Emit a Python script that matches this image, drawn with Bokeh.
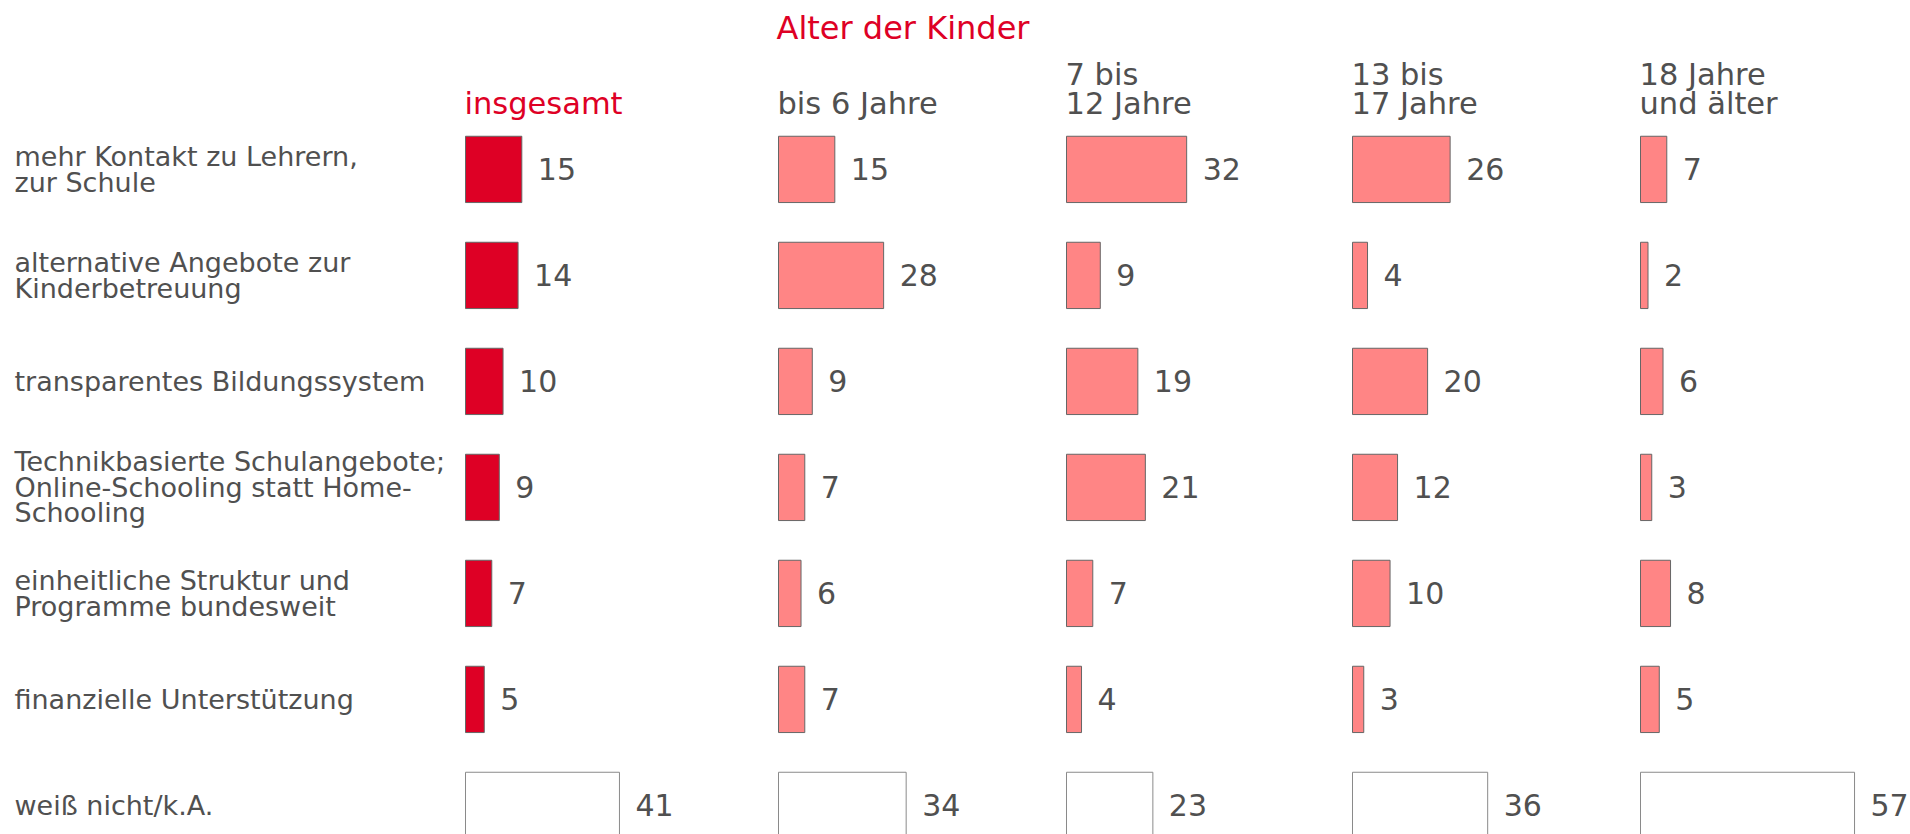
from bokeh.plotting import figure
from bokeh.models import Range1d, ColumnDataSource
from bokeh.core.properties import value
from bokeh.embed import file_html
from bokeh.resources import INLINE

# ---------------- data ----------------
title = "Alter der Kinder"
categories = [
    "mehr Kontakt zu Lehrern,\nzur Schule",
    "alternative Angebote zur\nKinderbetreuung",
    "transparentes Bildungssystem",
    "Technikbasierte Schulangebote;\nOnline-Schooling statt Home-\nSchooling",
    "einheitliche Struktur und\nProgramme bundesweit",
    "finanzielle Unterstützung",
    "weiß nicht/k.A.",
]
groups = ["insgesamt", "bis 6 Jahre", "7 bis\n12 Jahre", "13 bis\n17 Jahre", "18 Jahre\nund älter"]
insgesamt = [15, 14, 10, 9, 7, 5, 41]
bis_6 = [15, 28, 9, 7, 6, 7, 34]
j7_12 = [32, 9, 19, 21, 7, 4, 23]
j13_17 = [26, 4, 20, 12, 10, 3, 36]
j18_plus = [7, 2, 6, 3, 8, 5, 57]
series = [insgesamt, bis_6, j7_12, j13_17, j18_plus]

# ---------------- layout / style ----------------
W, H = 1910, 834
PX = 3.755            # pixels per percentage point
ROW = 106.0           # pixels per row
ROW0 = 168.9          # screen y of first row centre
COL_PX = [465, 778, 1066, 1352, 1640]
LABEL_PX = 14
RED = "#DE0025"
PINK = "#FF8585"
GREY = "#505050"
FONT = value("DejaVu Sans")


def ys(screen_y):
    return (screen_y - ROW0) / ROW


p = figure(width=W, height=H, output_backend="svg", toolbar_location=None,
           x_axis_location=None, y_axis_location=None, min_border=0,
           x_range=Range1d(0, W / PX),
           y_range=Range1d(ys(H), ys(0)))
p.grid.visible = False
p.outline_line_color = None
p.background_fill_color = "white"
p.border_fill_color = "white"

n = len(categories)
left, right, yy, fill, line = [], [], [], [], []
tx, ty, tt = [], [], []
for g, vals in enumerate(series):
    off = COL_PX[g] / PX
    for i, v in enumerate(vals):
        left.append(off)
        right.append(off + v)
        yy.append(i)
        if i == n - 1:
            fill.append("white"); line.append("#8a8a8a")
        else:
            fill.append(RED if g == 0 else PINK); line.append("#666666")
        tx.append(off + v + 16 / PX)
        ty.append(i)
        tt.append(str(v))

bars = ColumnDataSource(dict(left=left, right=right, y=yy, fill=fill, line=line))
p.hbar(y="y", left="left", right="right", height=66.3 / ROW, source=bars,
       fill_color="fill", line_color="line", line_width=1)

p.text(x=tx, y=ty, text=tt, text_font=FONT, text_font_size="30px",
       text_color=GREY, text_baseline="middle", text_align="left")

# category labels
LS = 25.5
cx, cy, ct = [], [], []
for i, lab in enumerate(categories):
    lines = lab.split("\n")
    k = len(lines)
    for j, s in enumerate(lines):
        cx.append(LABEL_PX / PX)
        cy.append(i + (j - (k - 1) / 2) * LS / ROW)
        ct.append(s)
p.text(x=cx, y=cy, text=ct, text_font=FONT, text_font_size="27px",
       text_color=GREY, text_baseline="middle", text_align="left")

# column headers
hx, hy, ht, hc = [], [], [], []
for g, lab in enumerate(groups):
    lines = lab.split("\n")
    k = len(lines)
    for j, s in enumerate(lines):
        hx.append((COL_PX[g] - 1) / PX)
        hy.append(ys(103.3 - (k - 1 - j) * 29.3))
        ht.append(s)
        hc.append(RED if g == 0 else GREY)
p.text(x=hx, y=hy, text=ht, text_color=hc, text_font=FONT,
       text_font_size="30.5px", text_baseline="middle", text_align="left")

p.text(x=[(COL_PX[1] - 2) / PX], y=[ys(27.5)], text=[title], text_color=RED,
       text_font=FONT, text_font_size="32px", text_baseline="middle",
       text_align="left")

open("out.html", "w").write(file_html(p, INLINE))
